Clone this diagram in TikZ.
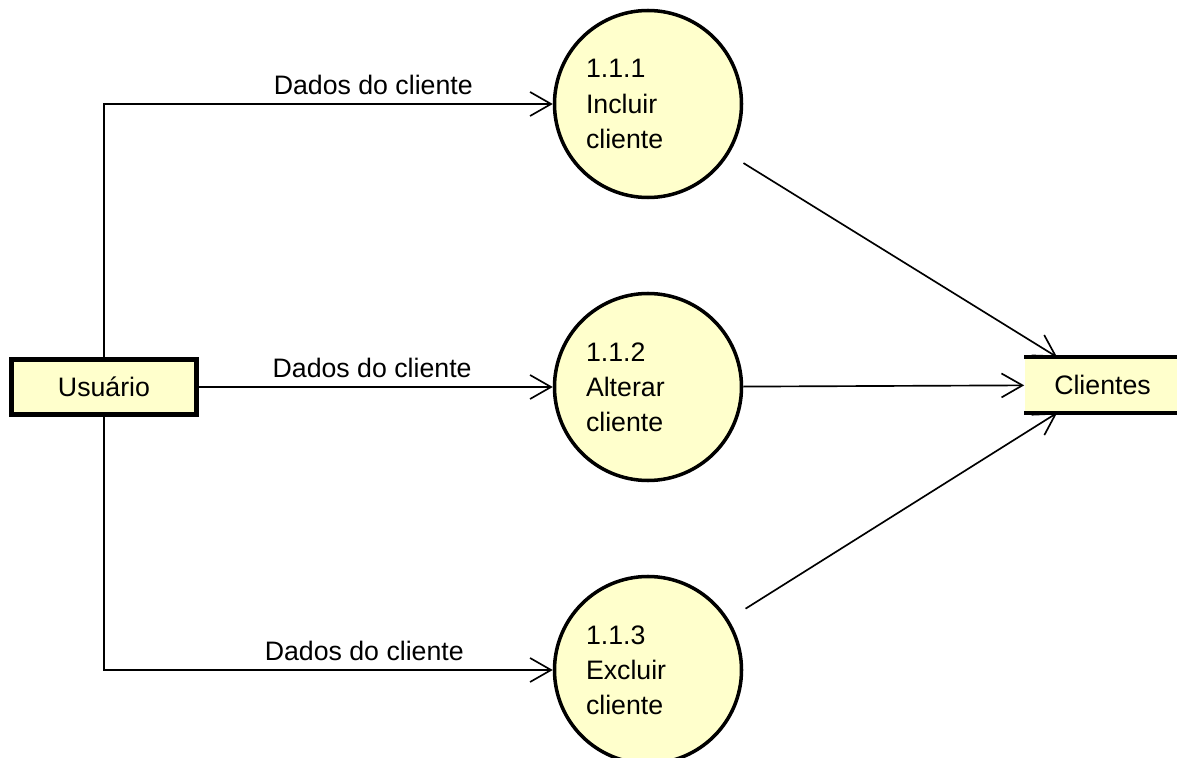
\documentclass[tikz,border=0pt]{standalone}
\usepackage{fontspec}
\setmainfont{Liberation Sans}
\usetikzlibrary{arrows.meta}
\definecolor{dfdyellow}{RGB}{255,255,204}

\begin{document}
\begin{tikzpicture}[->,>={Straight Barb[length=4.2mm,width=4.8mm]},line width=0.95pt,
	node distance=5.66cm,font=\fontsize{15.2}{20}\selectfont,
	process/.style={circle,draw,line width=2pt,fill=dfdyellow,minimum size=3.74cm,
		inner sep=0pt,text width=2.48cm,align=left},
	entity/.style={rectangle,draw,line width=2.4pt,fill=dfdyellow,minimum width=3.7cm,
		minimum height=1.1cm},
	store/.style={rectangle,fill=dfdyellow,minimum width=3.1cm,minimum height=1.08cm},
	flow/.style={above=1.5pt}]
	\useasboundingbox (0,0) rectangle (23.54,-15.16);
	\node[entity](us) at (2.08,-7.74){Usuário};
	\node[process](p1) at (12.96,-2.08){1.1.1\\Incluir\\cliente};
	\node[process](p2)[below of=p1]{1.1.2\\Alterar\\cliente};
	\node[process](p3)[below of=p2]{1.1.3\\Excluir\\cliente};
	\node[store](cl) at (22.05,-7.7){Clientes};
	\draw[-,line width=1.9pt] (cl.north west) -- (cl.north east);
	\draw[-,line width=1.9pt] (cl.south west) -- (cl.south east);
	
	\draw (us.north) |- node[flow,pos=0.8]{Dados do cliente} (p1);
	\draw (us.south) |- node[flow,pos=0.79]{Dados do cliente} (p3);
	\path (us) edge node[flow,pos=0.49]{Dados do cliente} (p2)
	      (p1) edge[shorten <=0.34cm] ([xshift=0.66cm]cl.north west)
	      (p2) edge (cl)
	      (p3) edge[shorten <=0.4cm] ([xshift=0.66cm]cl.south west);
\end{tikzpicture}
\end{document}
